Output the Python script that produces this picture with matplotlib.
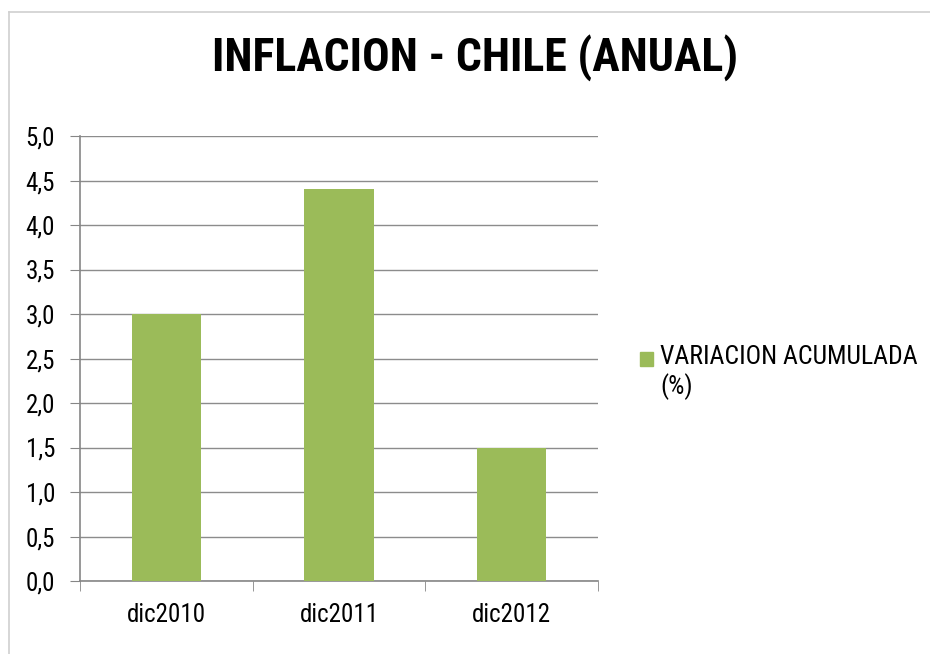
import matplotlib.pyplot as plt
import numpy as np
from matplotlib.patches import Rectangle
from matplotlib.lines import Line2D

categories = ['dic2010', 'dic2011', 'dic2012']
values = [3.0, 4.4, 1.5]
series_name = 'VARIACION ACUMULADA\n(%)'
title = 'INFLACION - CHILE (ANUAL)'

plt.rcParams['font.family'] = ['Roboto Condensed', 'Liberation Sans', 'DejaVu Sans']

fig = plt.figure(figsize=(9.3, 6.54), dpi=100)
ax = fig.add_axes([80 / 930, 73 / 654, 518 / 930, 445 / 654])

x = np.arange(len(categories))
ax.bar(x, values, width=0.4, color='#9BBB59', zorder=3)

ax.set_xlim(-0.5, len(categories) - 0.5)
ax.set_ylim(0, 5.0)
yt = np.arange(0, 5.01, 0.5)
ax.set_yticks(yt)
ax.set_yticklabels([f'{v:.1f}'.replace('.', ',') for v in yt], fontsize=18)
ax.set_xticks(x)
ax.set_xticklabels(categories, fontsize=18)
ax.tick_params(axis='x', length=0, pad=16)
ax.tick_params(axis='y', length=7, color='#868686', pad=11)
# category boundary ticks
ax.set_xticks(np.arange(-0.5, len(categories)), minor=True)
ax.tick_params(axis='x', which='minor', length=7, color='#868686')

ax.grid(axis='y', color='#8c8c8c', linewidth=1, zorder=0)
for s in ['top', 'right']:
    ax.spines[s].set_visible(False)
for s in ['left', 'bottom']:
    ax.spines[s].set_color('#868686')
    ax.spines[s].set_linewidth(1.2)

fig.text(475 / 930, 1 - 58 / 654, title, ha='center', va='center',
         fontsize=33, fontweight='bold')

# legend
fig.patches.append(Rectangle((640 / 930, 1 - 366 / 654), 13 / 930, 14 / 654,
                             transform=fig.transFigure, color='#9BBB59'))
fig.text(660 / 930, 1 - 345 / 654, series_name, ha='left', va='top',
         fontsize=18.5, linespacing=1.2)

# chart border
fig.add_artist(Line2D([9 / 930, 1], [1 - 12 / 654, 1 - 12 / 654],
                      transform=fig.transFigure, color='#d0d0d0', lw=1.2))
fig.add_artist(Line2D([9 / 930, 9 / 930], [0, 1 - 12 / 654],
                      transform=fig.transFigure, color='#d0d0d0', lw=1.2))

fig.savefig('out.png', dpi=100)
